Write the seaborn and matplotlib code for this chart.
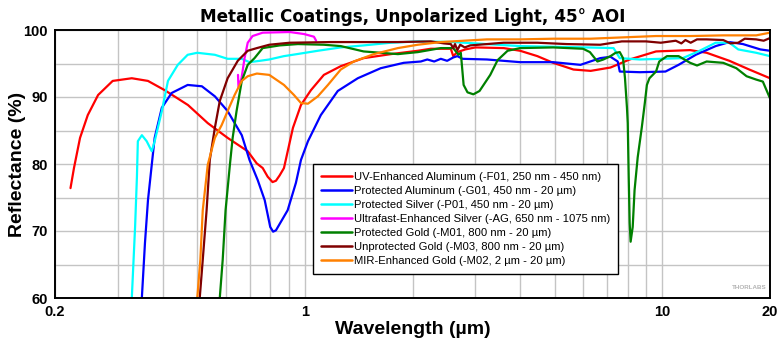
import matplotlib
matplotlib.use("Agg")
import matplotlib.pyplot as plt
import seaborn as sns
import pandas as pd
from matplotlib.ticker import LogLocator, FixedLocator, NullFormatter, FixedFormatter

# Wavelength (um) / reflectance (%) for each coating
uv_al_wl = [0.221, 0.226, 0.235, 0.247, 0.264, 0.290, 0.328, 0.364, 0.406, 0.471, 0.535, 0.608,
            0.692, 0.733, 0.762, 0.787, 0.812, 0.83, 0.85, 0.874, 0.926, 0.975, 1.039, 1.13, 1.26,
            1.46, 1.74, 2.07, 2.25, 2.40, 2.56, 2.60, 2.67, 2.81, 3.0, 3.6, 4.0, 4.47, 4.95, 5.64,
            6.3, 7.16, 8.1, 9.6, 11.96, 13.3, 15.4, 17.5, 20.0]
uv_al_r = [76.4, 79.4, 83.9, 87.3, 90.3, 92.4, 92.8, 92.4, 91.0, 88.8, 86.1, 83.9,
           81.9, 80.1, 79.4, 78.1, 77.3, 77.5, 78.3, 79.4, 85.4, 88.8, 91.0, 93.3, 94.6,
           95.8, 96.4, 96.9, 97.2, 97.2, 97.2, 96.1, 96.7, 97.1, 97.4, 97.3, 96.9, 96.1, 95.1, 94.1,
           93.9, 94.4, 95.6, 96.8, 97.0, 96.6, 95.4, 94.1, 92.8]

prot_al_wl = [0.350, 0.357, 0.364, 0.373, 0.380, 0.398, 0.424, 0.470, 0.515, 0.560, 0.608, 0.666,
              0.700, 0.738, 0.772, 0.800, 0.815, 0.830, 0.895, 0.944, 0.975, 1.02, 1.108, 1.236,
              1.406, 1.63, 1.89, 2.11, 2.2, 2.3, 2.4, 2.5, 2.6, 2.67, 2.76, 3.23, 4.0, 4.95, 5.9,
              6.7, 7.16, 7.5, 7.6, 8.65, 10.2, 11.1, 12.4, 14.1, 15.4, 16.8, 18.8, 20.0]
prot_al_r = [60.1, 68.2, 74.6, 79.9, 83.9, 88.4, 90.6, 91.8, 91.6, 90.1, 87.9, 84.3,
             80.6, 77.6, 74.6, 70.6, 69.9, 70.1, 73.1, 77.2, 80.6, 83.4, 87.3, 90.9,
             92.8, 94.3, 95.1, 95.3, 95.6, 95.3, 95.7, 95.4, 95.9, 96.1, 95.7, 95.6, 95.2, 95.2, 94.8,
             95.8, 96.0, 95.3, 93.8, 93.7, 93.8, 94.8, 96.3, 97.6, 98.2, 97.9, 97.1, 96.9]

prot_ag_wl = [0.328, 0.335, 0.339, 0.341, 0.350, 0.361, 0.373, 0.380, 0.398, 0.414, 0.441, 0.470,
              0.500, 0.560, 0.608, 0.666, 0.700, 0.748, 0.795, 0.874, 0.950, 1.087, 1.26, 1.46,
              1.74, 2.07, 2.6, 4.0, 6.1, 7.3, 7.6, 8.65, 11.4, 12.6, 14.1, 15.4, 16.3, 18.3, 20.0]
prot_ag_r = [60.0, 70.6, 78.1, 83.4, 84.3, 83.4, 81.9, 83.4, 87.9, 92.4, 94.8, 96.3,
             96.6, 96.3, 95.7, 95.7, 95.2, 95.4, 95.6, 96.1, 96.4, 96.9, 97.4, 97.7,
             98.1, 98.3, 98.2, 97.6, 97.4, 97.3, 95.8, 95.6, 95.8, 96.8, 98.1, 98.1, 97.1, 96.6, 96.1]

uf_ag_wl = [0.65, 0.652, 0.665, 0.678, 0.692, 0.714, 0.762, 0.907, 0.994, 1.06, 1.075]
uf_ag_r = [93.3, 91.5, 92.8, 95.8, 98.1, 99.1, 99.6, 99.7, 99.4, 99.0, 98.4]

prot_au_wl = [0.578, 0.589, 0.600, 0.617, 0.628, 0.644, 0.666, 0.692, 0.723, 0.762, 0.85, 0.956,
              1.13, 1.26, 1.46, 1.63, 1.82, 2.07, 2.4, 2.6, 2.69, 2.73, 2.78, 2.85, 2.96, 3.08,
              3.3, 3.46, 3.69, 4.0, 4.95, 6.0, 6.27, 6.58, 6.84, 7.16, 7.4, 7.6, 7.76, 7.86, 7.96,
              8.0, 8.05, 8.1, 8.15, 8.26, 8.36, 8.53, 8.76, 8.93, 9.05, 9.2, 9.6, 9.8, 10.3, 11.1,
              11.96, 12.5, 13.3, 14.8, 16.1, 17.2, 18.3, 19.1, 20.0]
prot_au_r = [60.0, 65.7, 73.1, 79.9, 83.9, 87.9, 92.4, 94.8, 95.8, 97.3, 97.7, 97.9,
             97.8, 97.6, 96.8, 96.6, 96.4, 96.7, 97.3, 97.3, 96.3, 96.6, 91.8, 90.7, 90.4, 90.9,
             93.3, 95.5, 96.9, 97.3, 97.4, 97.2, 96.7, 95.3, 95.6, 96.1, 96.6, 96.7, 95.8, 92.8, 88.4,
             86.1, 78.1, 71.2, 68.4, 70.6, 76.1, 81.0, 85.5, 89.1, 91.8, 92.8, 93.8, 95.3, 96.1, 96.1,
             95.1, 94.7, 95.3, 95.1, 94.3, 93.1, 92.6, 92.3, 89.8]

unprot_au_wl = [0.508, 0.518, 0.531, 0.542, 0.560, 0.578, 0.608, 0.649, 0.692, 0.734, 0.795, 0.907,
                1.18, 1.82, 2.25, 2.45, 2.56, 2.60, 2.63, 2.67, 2.72, 2.80, 2.9, 3.6, 4.47, 5.4,
                6.7, 7.7, 9.0, 9.9, 10.9, 11.3, 11.6, 12.0, 12.5, 13.3, 14.8, 15.5, 16.3, 17.0,
                18.3, 19.2, 20.0]
unprot_au_r = [60.0, 65.7, 73.1, 80.6, 85.4, 89.4, 92.8, 95.4, 96.9, 97.3, 97.8, 98.1,
               98.2, 98.2, 98.3, 98.0, 97.9, 97.3, 97.9, 97.0, 97.8, 97.4, 97.7, 98.1, 98.1, 97.9,
               97.8, 98.3, 98.3, 98.1, 98.4, 98.0, 98.5, 98.1, 98.6, 98.6, 98.5, 98.0, 98.1, 98.7,
               98.6, 98.4, 98.8]

mir_au_wl = [0.500, 0.510, 0.518, 0.535, 0.560, 0.585, 0.608, 0.636, 0.666, 0.692, 0.734, 0.795,
             0.874, 0.932, 0.975, 1.02, 1.087, 1.16, 1.26, 1.37, 1.56, 1.82, 2.07, 2.4, 3.23,
             4.0, 4.95, 6.3, 7.76, 9.6, 12.0, 14.8, 18.3, 20.0]
mir_au_r = [60.0, 65.7, 73.1, 79.9, 83.9, 85.8, 87.9, 90.3, 92.4, 93.1, 93.5, 93.3,
            91.8, 90.3, 89.1, 89.0, 90.1, 91.8, 94.1, 95.3, 96.4, 97.3, 97.8, 98.2, 98.6,
            98.6, 98.7, 98.7, 98.9, 99.1, 99.1, 99.2, 99.2, 99.6]

labels = [
    "UV-Enhanced Aluminum (-F01, 250 nm - 450 nm)",
    "Protected Aluminum (-G01, 450 nm - 20 \u00b5m)",
    "Protected Silver (-P01, 450 nm - 20 \u00b5m)",
    "Ultrafast-Enhanced Silver (-AG, 650 nm - 1075 nm)",
    "Protected Gold (-M01, 800 nm - 20 \u00b5m)",
    "Unprotected Gold (-M03, 800 nm - 20 \u00b5m)",
    "MIR-Enhanced Gold (-M02, 2 \u00b5m - 20 \u00b5m)",
]
colors = ["#ff0000", "#0000ff", "#00ffff", "#ff00ff", "#008000", "#800000", "#ff8000"]
series = [(uv_al_wl, uv_al_r), (prot_al_wl, prot_al_r), (prot_ag_wl, prot_ag_r),
          (uf_ag_wl, uf_ag_r), (prot_au_wl, prot_au_r), (unprot_au_wl, unprot_au_r),
          (mir_au_wl, mir_au_r)]

frames = []
for lab, (wl, r) in zip(labels, series):
    frames.append(pd.DataFrame({"Wavelength": wl, "Reflectance": r, "Coating": lab}))
df = pd.concat(frames, ignore_index=True)

sns.set_theme(style="white")
plt.rcParams["font.family"] = ["Liberation Sans", "DejaVu Sans"]
plt.rcParams.update({"text.color": "black", "axes.labelcolor": "black",
                     "xtick.color": "black", "ytick.color": "black"})

fig = plt.figure(figsize=(7.8, 3.41), dpi=100)
ax = fig.add_axes([55 / 780, 1 - 298 / 341, 715 / 780, 268 / 341])

sns.lineplot(data=df, x="Wavelength", y="Reflectance", hue="Coating",
             palette=dict(zip(labels, colors)), hue_order=labels,
             estimator=None, sort=False, linewidth=1.6, ax=ax, legend=True)

ax.set_xscale("log")
ax.set_xlim(0.2, 20)
ax.set_ylim(60, 100)

ax.xaxis.set_major_locator(FixedLocator([0.2, 1, 10, 20]))
ax.xaxis.set_major_formatter(FixedFormatter(["0.2", "1", "10", "20"]))
ax.xaxis.set_minor_locator(LogLocator(base=10, subs=range(2, 10)))
ax.xaxis.set_minor_formatter(NullFormatter())
ax.set_yticks([60, 70, 80, 90, 100])
ax.set_yticks([65, 75, 85, 95], minor=True)

ax.grid(True, which="both", color="#c4c4c4", linewidth=1.0)
ax.set_axisbelow(True)
for s in ax.spines.values():
    s.set_color("black")
    s.set_linewidth(1.4)

ax.tick_params(axis="x", which="both", direction="in", length=3, width=1, color="black",
               labelsize=10.5, pad=5)
ax.tick_params(axis="y", which="both", length=0, labelsize=10.5, pad=5)
for t in ax.get_xticklabels() + ax.get_yticklabels():
    t.set_fontweight("bold")

ax.set_xlabel("Wavelength (\u00b5m)", fontsize=14, fontweight="bold")
ax.xaxis.set_label_coords(0.5, -0.087)
ax.set_ylabel("Reflectance (%)", fontsize=14, fontweight="bold")
ax.yaxis.set_label_coords(-0.041, 0.5)
ax.set_title("Metallic Coatings, Unpolarized Light, 45\u00b0 AOI", fontsize=12.1,
             fontweight="bold", family="DejaVu Sans", pad=6)

leg = ax.legend(loc="upper left", bbox_to_anchor=(0.361, 0.0896, 0.426, 0.4104),
                mode="expand", fontsize=8.1, frameon=True, fancybox=False,
                edgecolor="black", framealpha=1, handlelength=2.8, handletextpad=0.12,
                labelspacing=0.36, borderpad=0.7, borderaxespad=0)
leg.get_frame().set_linewidth(1.0)
for line in leg.get_lines():
    line.set_linewidth(1.8)

ax.text(0.995, 0.03, "THORLABS", transform=ax.transAxes, ha="right", va="bottom",
        fontsize=4.5, fontweight="bold", color="#b4b4b4")

fig.savefig("out.png", dpi=100, facecolor="white")
